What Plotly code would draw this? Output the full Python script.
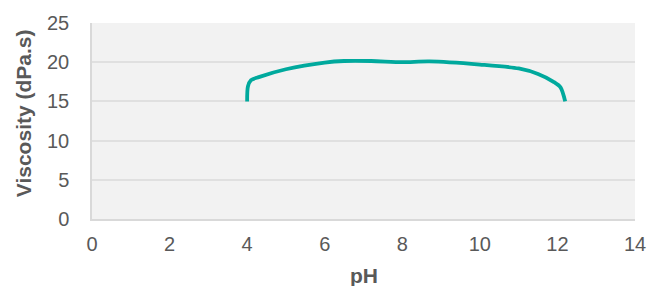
import plotly.graph_objects as go

ph = [4.0, 4.02, 4.1, 4.3, 5.0, 6.0, 6.5, 7.2, 8.0, 8.7, 10.0, 11.0, 11.5, 11.9, 12.08, 12.2]
viscosity = [15.0, 16.9, 17.7, 18.1, 19.1, 19.95, 20.15, 20.15, 20.0, 20.1, 19.7, 19.2, 18.5, 17.5, 16.8, 15.0]

x_ticks = [0, 2, 4, 6, 8, 10, 12, 14]
y_ticks = [0, 5, 10, 15, 20, 25]
x_title = "pH"
y_title = "Viscosity (dPa.s)"

fig = go.Figure()
fig.add_trace(go.Scatter(
    x=ph, y=viscosity, mode="lines",
    line=dict(color="#00A99D", width=3.8, shape="spline", smoothing=0.8),
    showlegend=False, hoverinfo="skip",
))

font = "Liberation Sans, Arial, sans-serif"
grey = "#595959"
fig.update_layout(
    width=647, height=286,
    margin=dict(l=92, r=12, t=23, b=67, autoexpand=False),
    paper_bgcolor="white",
    plot_bgcolor="#F2F2F2",
    font=dict(family=font, size=20, color=grey),
    xaxis=dict(
        range=[0, 14], tickvals=x_ticks, ticktext=[str(v) for v in x_ticks],
        showgrid=False, zeroline=False, automargin=False,
        showline=True, linecolor="#D9D9D9", linewidth=1.5,
        ticks="", ticklabelstandoff=6,
        tickfont=dict(size=20, color=grey),
    ),
    yaxis=dict(
        range=[0, 25], tickvals=y_ticks, ticktext=[str(v) for v in y_ticks],
        showgrid=True, gridcolor="#E0E0E0", gridwidth=1.5,
        zeroline=False, automargin=False,
        showline=True, linecolor="#D9D9D9", linewidth=1.5,
        ticks="", ticklabelstandoff=17,
        tickfont=dict(size=20, color=grey),
    ),
    annotations=[
        dict(text="<b>%s</b>" % x_title, xref="paper", yref="paper",
             x=0.5, y=-0.29, xanchor="center", yanchor="middle",
             showarrow=False, font=dict(size=21, color=grey, family=font)),
        dict(text="<b>%s</b>" % y_title, xref="paper", yref="paper",
             x=-0.127, y=0.54, xanchor="center", yanchor="middle", textangle=-90,
             showarrow=False, font=dict(size=21, color=grey, family=font)),
    ],
)

fig.write_html("out.html", config={"displayModeBar": False},
               post_script="document.body.style.margin='0';")
